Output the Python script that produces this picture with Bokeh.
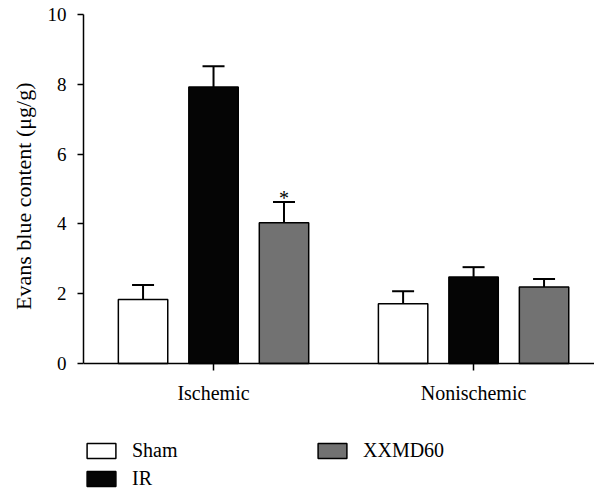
import numpy as np
from bokeh.plotting import figure
from bokeh.models import (Range1d, FixedTicker, ColumnDataSource, Whisker, TeeHead,
                          Legend, LegendItem, Title)
from bokeh.core.properties import value
from bokeh.embed import file_html
from bokeh.resources import INLINE

# ---- data ----
groups = ["Ischemic", "Nonischemic"]
series = ["Sham", "IR", "XXMD60"]
sham = [1.83, 1.71]
sham_err = [0.42, 0.36]
ir = [7.92, 2.48]
ir_err = [0.60, 0.28]
xxmd = [4.03, 2.19]
xxmd_err = [0.60, 0.23]
marks = [["", ""], ["", ""], ["*", ""]]  # significance marks per series
colors = ["#ffffff", "#050505", "#727272"]
y_ticks = [0, 2, 4, 6, 8, 10]
y_label = "Evans blue content (μg/g)"

FONT = "Liberation Serif"

p = figure(width=594, height=490, output_backend="svg", toolbar_location=None,
           x_range=Range1d(-0.5, 1.465), y_range=Range1d(-3.64, 10),
           min_border_left=83, min_border_right=0, min_border_top=14,
           min_border_bottom=0)
p.outline_line_color = None
p.grid.visible = False
p.background_fill_color = "white"
p.border_fill_color = "white"

gpos = np.arange(len(groups))
offsets = [-0.271, 0.0, 0.271]
width = 0.19
vals = [sham, ir, xxmd]
errs = [sham_err, ir_err, xxmd_err]

renderers = []
for name, off, v, e, c, mk in zip(series, offsets, vals, errs, colors, marks):
    x = gpos + off
    top = np.array(v)
    up = top + np.array(e)
    src = ColumnDataSource(dict(x=x, top=top, up=up, mk=mk))
    r = p.vbar(x="x", top="top", width=width, bottom=0, source=src,
               fill_color=c, line_color="black", line_width=1.5)
    renderers.append(r)
    w = Whisker(base="x", lower="top", upper="up", source=src, dimension="height",
                line_color="black", line_width=2,
                upper_head=TeeHead(size=22, line_color="black", line_width=2),
                lower_head=None)
    p.add_layout(w)
    p.text(x="x", y="up", text="mk", source=src, text_align="center",
           text_baseline="alphabetic", y_offset=-4, text_font=value(FONT),
           text_font_size="20px", text_color="black")

# axes
p.xaxis.fixed_location = 0
p.xaxis.ticker = FixedTicker(ticks=list(gpos))
p.xaxis.major_label_overrides = {int(i): g for i, g in zip(gpos, groups)}
p.xaxis.major_tick_in = 0
p.xaxis.major_tick_out = 7
p.xaxis.minor_tick_line_color = None
p.xaxis.major_label_standoff = 12
p.xaxis.major_label_text_font = FONT
p.xaxis.major_label_text_font_size = "20px"
p.xaxis.major_label_text_color = "black"
p.xaxis.axis_line_width = 1.5
p.xaxis.major_tick_line_width = 1.5

p.yaxis.bounds = (y_ticks[0], y_ticks[-1])
p.yaxis.ticker = FixedTicker(ticks=y_ticks)
p.yaxis.major_tick_in = 0
p.yaxis.major_tick_out = 6
p.yaxis.minor_tick_line_color = None
p.yaxis.major_label_standoff = 11
p.yaxis.major_label_text_font = FONT
p.yaxis.major_label_text_font_size = "19px"
p.yaxis.major_label_text_color = "black"
p.yaxis.axis_line_width = 1.5
p.yaxis.major_tick_line_width = 1.5

ytitle = Title(text=y_label, align="right", offset=68, vertical_align="middle",
               text_font=FONT, text_font_size="22px", text_font_style="normal",
               text_color="black", standoff=16)
p.add_layout(ytitle, "left")

legend = Legend(items=[LegendItem(label=s, renderers=[r]) for s, r in zip(series, renderers)],
                orientation="vertical", nrows=2, location=(0, 0),
                label_text_font=FONT, label_text_font_size="20px", label_text_color="black",
                glyph_width=36, glyph_height=19, label_height=19, label_standoff=13,
                label_width=177, spacing=5, padding=0, margin=0,
                border_line_color=None, background_fill_alpha=0)
p.add_layout(legend, "center")

open("out.html", "w").write(file_html(p, INLINE))
